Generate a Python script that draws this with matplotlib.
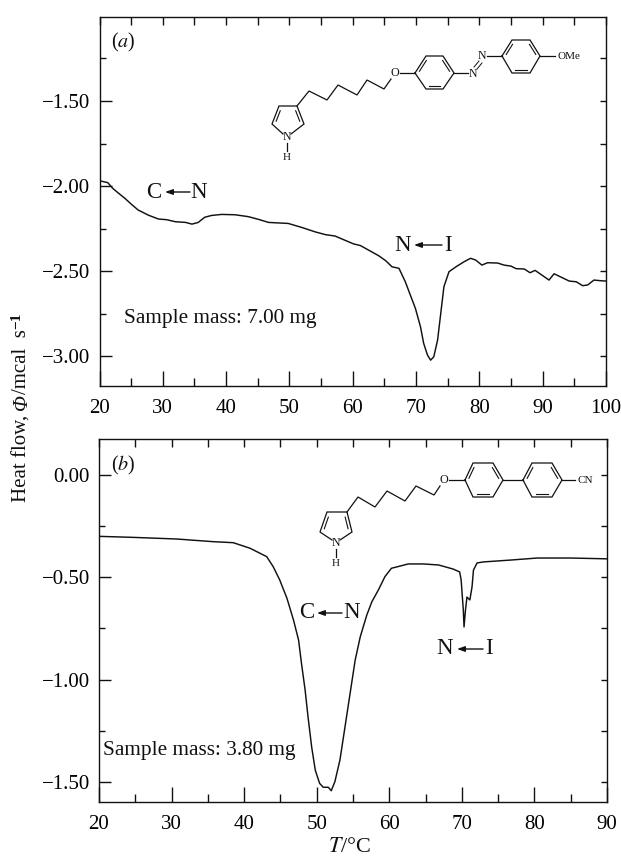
import matplotlib
matplotlib.use('Agg')
import matplotlib.pyplot as plt
import numpy as np
from matplotlib.ticker import MultipleLocator

plt.rcParams['font.family'] = ['Liberation Serif', 'DejaVu Serif']
plt.rcParams['mathtext.fontset'] = 'stix'

# curve (a)
temp_a = [20, 21.3, 22.1, 22.9, 24.0, 25.0, 26.1, 27.7, 29.3, 30.6, 32.0, 33.6, 34.6, 35.6, 36.6,
          37.7, 39.3, 41.4, 43.5, 45.1, 46.7, 49.8, 51.9, 54.1, 55.7, 57.2, 60.1, 61.2, 64.1,
          65.2, 66.2, 67.3, 68.3, 68.9, 69.9, 70.7, 71.2, 71.8, 72.3, 72.8, 73.4, 73.9, 74.4,
          75.2, 76.3, 77.6, 78.6, 79.4, 80.4, 81.3, 82.9, 83.9, 85.0, 85.8, 87.1, 88.0, 88.8,
          91.0, 91.8, 94.2, 95.3, 96.3, 97.1, 98.1, 99.2, 100]
flow_a = [-1.969, -1.98, -2.014, -2.039, -2.072, -2.106, -2.141, -2.171, -2.194, -2.198, -2.21,
          -2.214, -2.224, -2.214, -2.184, -2.173, -2.167, -2.169, -2.18, -2.196, -2.214, -2.22,
          -2.243, -2.27, -2.286, -2.294, -2.34, -2.35, -2.41, -2.439, -2.475, -2.484, -2.563,
          -2.622, -2.72, -2.828, -2.925, -2.994, -3.024, -3.004, -2.906, -2.749, -2.592, -2.504,
          -2.475, -2.445, -2.425, -2.435, -2.465, -2.451, -2.453, -2.465, -2.471, -2.486, -2.488,
          -2.51, -2.496, -2.553, -2.516, -2.559, -2.563, -2.586, -2.582, -2.553, -2.557, -2.559]

# curve (b)
temp_b = [20, 24.7, 30.7, 35.7, 38.5, 40.8, 42.2, 43.1, 44.0, 44.9, 45.9, 46.8, 47.5, 47.9, 48.4,
          48.8, 49.3, 49.8, 50.4, 50.9, 51.6, 52.0, 52.5, 53.2, 53.9, 54.6, 55.3, 56.0, 56.9,
          57.6, 58.5, 59.4, 60.3, 61.2, 62.6, 64.7, 66.8, 68.8, 69.7, 69.9, 70.2, 70.3, 70.5,
          70.7, 71.1, 71.4, 71.6, 72.1, 73, 76.7, 80.4, 85, 90]
flow_b = [-0.30, -0.305, -0.313, -0.326, -0.331, -0.358, -0.383, -0.399, -0.448, -0.513, -0.603,
          -0.709, -0.807, -0.921, -1.051, -1.182, -1.329, -1.443, -1.508, -1.527, -1.527, -1.544,
          -1.50, -1.394, -1.231, -1.068, -0.905, -0.791, -0.685, -0.62, -0.562, -0.497, -0.456,
          -0.448, -0.435, -0.435, -0.44, -0.46, -0.474, -0.513, -0.66, -0.743, -0.66, -0.597,
          -0.611, -0.548, -0.465, -0.43, -0.425, -0.416, -0.406, -0.406, -0.41]

ink = '#111111'
W, H = 621, 856


def make_axes(fig, left, right, top, bottom, xlim, ylim, xticks, yticks, ylabels):
    ax = fig.add_axes([left / W, 1 - bottom / H, (right - left) / W, (bottom - top) / H])
    ax.set_xlim(*xlim)
    ax.set_ylim(*ylim)
    for s in ax.spines.values():
        s.set_linewidth(1.0)
        s.set_color(ink)
    ax.set_xticks(xticks)
    ax.xaxis.set_minor_locator(MultipleLocator(5))
    ax.set_yticks(yticks)
    ax.set_yticklabels(ylabels)
    ax.yaxis.set_minor_locator(MultipleLocator(0.25))
    ax.tick_params(axis='x', which='major', direction='in', length=11, width=1, labelsize=15, pad=9.5, color=ink)
    ax.tick_params(axis='x', which='minor', direction='in', length=6, width=1, color=ink)
    ax.tick_params(axis='y', which='major', direction='in', length=8.5, width=1, labelsize=15, pad=6.5, color=ink)
    ax.tick_params(axis='y', which='minor', direction='in', length=4.5, width=1, color=ink)

    # top and right edges have their own shorter ticks
    sx = ax.secondary_xaxis('top')
    sx.xaxis.set_major_locator(MultipleLocator(5))
    sx.tick_params(direction='in', length=6, width=1, labeltop=False, color=ink)
    sx.spines['top'].set_visible(False)
    sy = ax.secondary_yaxis('right')
    sy.yaxis.set_major_locator(MultipleLocator(0.25))
    sy.tick_params(direction='in', length=4, width=1, labelright=False, color=ink)
    sy.spines['right'].set_visible(False)
    return ax


def bonds(ov, pts, lw=0.9):
    xs, ys = zip(*pts)
    ov.plot(xs, ys, color=ink, lw=lw, solid_joinstyle='miter')


def inner(ov, a, b, c, f=0.17):
    # second line of a double bond, pulled toward the ring centre c
    a, b, c = np.array(a, float), np.array(b, float), np.array(c, float)
    a2 = a + (c - a) * f + (b - a) * 0.1
    b2 = b + (c - b) * f + (a - b) * 0.1
    ov.plot([a2[0], b2[0]], [a2[1], b2[1]], color=ink, lw=0.8)


def benzene(ov, v):
    bonds(ov, v + [v[0]])
    c = np.mean(v, axis=0)
    inner(ov, v[0], v[1], c)
    inner(ov, v[2], v[3], c)
    inner(ov, v[4], v[5], c)


def pyrrole(ov, a, b, c, d, n):
    bonds(ov, [(n[0] - 4, n[1] - 3), a, b, c, d, (n[0] + 4, n[1] - 3)])
    m = np.mean([a, b, c, d, n], axis=0)
    inner(ov, a, b, m, 0.22)
    inner(ov, c, d, m, 0.22)
    bonds(ov, [(n[0], n[1] + 6), (n[0], n[1] + 14)])
    ov.text(n[0], n[1], 'N', fontsize=8.5, ha='center', va='center', color=ink)
    ov.text(n[0], n[1] + 20, 'H', fontsize=8, ha='center', va='center', color=ink)


def arrow_label(ov, left, right, y, x0, x1, xl, xr):
    ov.text(xl, y, left, fontsize=16.5, ha='center', va='center', color=ink)
    ov.text(xr, y, right, fontsize=16.5, ha='center', va='center', color=ink)
    ov.annotate('', xy=(x1, y), xytext=(x0, y),
                arrowprops=dict(arrowstyle='-|>,head_length=0.45,head_width=0.16', color=ink,
                                lw=1.0, shrinkA=0, shrinkB=0))


fig = plt.figure(figsize=(W / 100, H / 100), dpi=100)

ax_a = make_axes(fig, 99.5, 606, 17, 386, (20, 100), (-3.176, -1.006),
                 [20, 30, 40, 50, 60, 70, 80, 90, 100], [-3, -2.5, -2, -1.5],
                 ['\u22123.00', '\u22122.50', '\u22122.00', '\u22121.50'])
ax_a.plot(temp_a, flow_a, color=ink, lw=1.05)

ax_b = make_axes(fig, 99, 607, 439, 802, (20, 90), (-1.599, 0.176),
                 [20, 30, 40, 50, 60, 70, 80, 90], [-1.5, -1, -0.5, 0],
                 ['\u22121.50', '\u22121.00', '\u22120.50', '0.00'])
ax_b.plot(temp_b, flow_b, color=ink, lw=1.05)

# overlay in picture pixels for the labels and structures
ov = fig.add_axes([0, 0, 1, 1])
ov.set_xlim(0, W)
ov.set_ylim(H, 0)
ov.axis('off')
ov.patch.set_alpha(0)

# y label is built from pieces, going up the page, so phi can be italic and the exponent bold
renderer = fig.canvas.get_renderer()
pos = 502
label_parts = [('Heat flow, ', 'normal', 'normal', 15, 22), ('\u03a6', 'italic', 'normal', 15, 22),
               ('/mcal  s', 'normal', 'normal', 15, 22), ('\u22121', 'normal', 'bold', 11, 17)]
for txt, style, weight, size, xc in label_parts:
    t = ov.text(xc, pos, txt, rotation=90, fontsize=size, fontstyle=style, fontweight=weight,
                ha='center', va='bottom', color=ink)
    pos -= t.get_window_extent(renderer).height

ov.text(350, 847, r'$\mathit{T}$/°C', fontsize=16, ha='center', va='center', color=ink)

ov.text(123, 42, r'($\mathit{a}$)', fontsize=14.5, ha='center', va='center', color=ink)
ov.text(123, 465, r'($\mathit{b}$)', fontsize=14.5, ha='center', va='center', color=ink)
ov.text(124, 319, 'Sample mass: 7.00 mg', fontsize=15.3, ha='left', va='center', color=ink)
ov.text(103, 750, 'Sample mass: 3.80 mg', fontsize=15.3, ha='left', va='center', color=ink)

arrow_label(ov, 'C', 'N', 192, 190, 165, 154, 199)
arrow_label(ov, 'N', 'I', 245, 442, 414, 403, 448)
arrow_label(ov, 'C', 'N', 613, 342, 317, 307, 352)
arrow_label(ov, 'N', 'I', 649, 483, 457, 445, 489)

# structure (a)
pyrrole(ov, (272, 124), (279, 106), (297, 106), (304, 124), (287, 137))
bonds(ov, [(297, 106), (309, 91), (327, 100), (338, 85), (357, 95), (367, 80), (384, 89), (391, 79)])
ov.text(395, 73, 'O', fontsize=8.7, ha='center', va='center', color=ink)
bonds(ov, [(400, 73), (415, 73)])
benzene(ov, [(415, 73), (426, 56), (443, 56), (454, 73), (443, 89), (426, 89)])
bonds(ov, [(454, 73), (468, 73)])
ov.text(473, 74, 'N', fontsize=8.5, ha='center', va='center', color=ink)
ov.text(482, 56, 'N', fontsize=8.5, ha='center', va='center', color=ink)
bonds(ov, [(474, 67), (479, 61)], lw=0.7)
bonds(ov, [(477, 69), (482, 63)], lw=0.7)
bonds(ov, [(487, 56), (502, 56)])
benzene(ov, [(502, 56), (512, 40), (530, 40), (540, 56), (530, 73), (512, 73)])
bonds(ov, [(540, 56), (555, 56)])
ov.text(557, 56.5, 'OMe', fontsize=8, ha='left', va='center', color=ink)

# structure (b)
pyrrole(ov, (320, 532), (327, 512), (347, 512), (352, 532), (336, 543))
bonds(ov, [(347, 512), (358, 497), (375, 507), (387, 491), (405, 501), (416, 486), (434, 495), (440, 486)])
ov.text(444, 480, 'O', fontsize=8.7, ha='center', va='center', color=ink)
bonds(ov, [(449, 480), (465, 480)])
benzene(ov, [(465, 480), (473, 463), (493, 463), (503, 480), (493, 497), (473, 497)])
bonds(ov, [(503, 480), (523, 480)])
benzene(ov, [(523, 480), (532, 463), (552, 463), (562, 480), (552, 497), (532, 497)])
bonds(ov, [(562, 480), (575, 480)])
ov.text(577, 480.5, 'CN', fontsize=8, ha='left', va='center', color=ink)

fig.savefig('out.png', dpi=100)
